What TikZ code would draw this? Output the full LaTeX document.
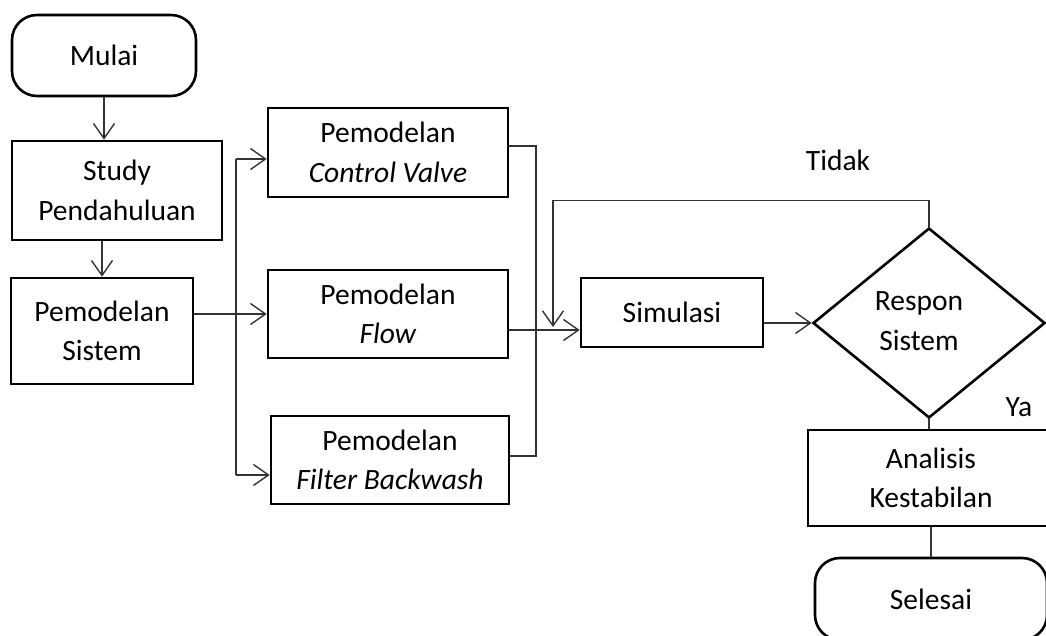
\documentclass[tikz,border=0pt]{standalone}
\usepackage{fontspec}
\setmainfont{Carlito}
\usetikzlibrary{arrows.meta,shapes.geometric,calc}
\begin{document}
\begin{tikzpicture}[x=1pt,y=-1pt,
  txt/.style={font=\fontsize{29.5}{39.5}\selectfont,align=center,inner sep=0pt},
  box/.style={txt,draw=black,line width=2.6pt,rectangle},
  term/.style={box,rounded corners=25pt},
  dec/.style={draw=black,line width=2.6pt,diamond,inner sep=0pt},
  conn/.style={draw=black!80,line width=1.4pt},
  arr/.style={conn,-{Straight Barb[length=15pt,width=21pt]}}]
\useasboundingbox (0,0) rectangle (1046,636);

% nodes
\node[term,minimum width=184pt,minimum height=81pt] (mulai) at (104,55.5) {Mulai};
\node[box,minimum width=210pt,minimum height=99pt] (study) at (117,190.5) {Study\\Pendahuluan};
\node[box,minimum width=182pt,minimum height=106pt] (sistem) at (102,331) {Pemodelan\\Sistem};
\node[box,minimum width=240pt,minimum height=89pt] (cv) at (388,152.5) {Pemodelan\\\textit{Control Valve}};
\node[box,minimum width=240pt,minimum height=88pt] (flow) at (388,314) {Pemodelan\\\textit{Flow}};
\node[box,minimum width=238pt,minimum height=88pt] (fb) at (390,460) {Pemodelan\\\textit{Filter Backwash}};
\node[box,minimum width=182pt,minimum height=69pt] (sim) at (672,312.5) {Simulasi};
\node[dec,minimum width=232pt,minimum height=190pt] (resp) at (929,323) {};
\node[txt] (resptxt) at (919,321) {Respon\\Sistem};
\node[box,minimum width=246pt,minimum height=96pt] (anal) at (931,478) {Analisis\\Kestabilan};
\node[term,minimum width=232pt,minimum height=82pt] (sel) at (931,599) {Selesai};
\node[txt] (tidak) at (838,160) {Tidak};
\node[txt] (ya) at (1019,407) {Ya};

% helper coordinates
\coordinate (lb) at (236,0);
\coordinate (rb) at (536,0);
\coordinate (cvin) at ([yshift=-6.5pt]cv.west);
\coordinate (fbin) at ([yshift=-15pt]fb.west);
\coordinate (cvo) at ([yshift=6.5pt]cv.east);
\coordinate (fbo) at ([yshift=4pt]fb.east);
\coordinate (flo) at ([yshift=-16pt]flow.east);
\coordinate (fbk) at (553,327);

% connectors
\draw[arr] (mulai.south) -- (mulai.south |- study.north);
\draw[arr] (sistem.north |- study.south) -- (sistem.north);
\draw[arr] (sistem.east |- flow.west) -- (flow.west);
\draw[conn] (lb |- cvin) -- (lb |- fbin);
\draw[arr] (lb |- cvin) -- (cvin);
\draw[arr] (lb |- fbin) -- (fbin);
\draw[conn] (cvo) -- (rb |- cvo) -- (rb |- fbo) -- (fbo);
\draw[arr] (flo) -- (flo -| sim.west);
\draw[arr] (sim.east |- resp.west) -- (resp.west);
\draw[arr] (resp.north) -- ++(0,-26) -| (fbk);
\draw[conn] (resp.south) -- (resp.south |- anal.north);
\draw[conn] (anal.south) -- (anal.south |- sel.north);
\end{tikzpicture}
\end{document}
